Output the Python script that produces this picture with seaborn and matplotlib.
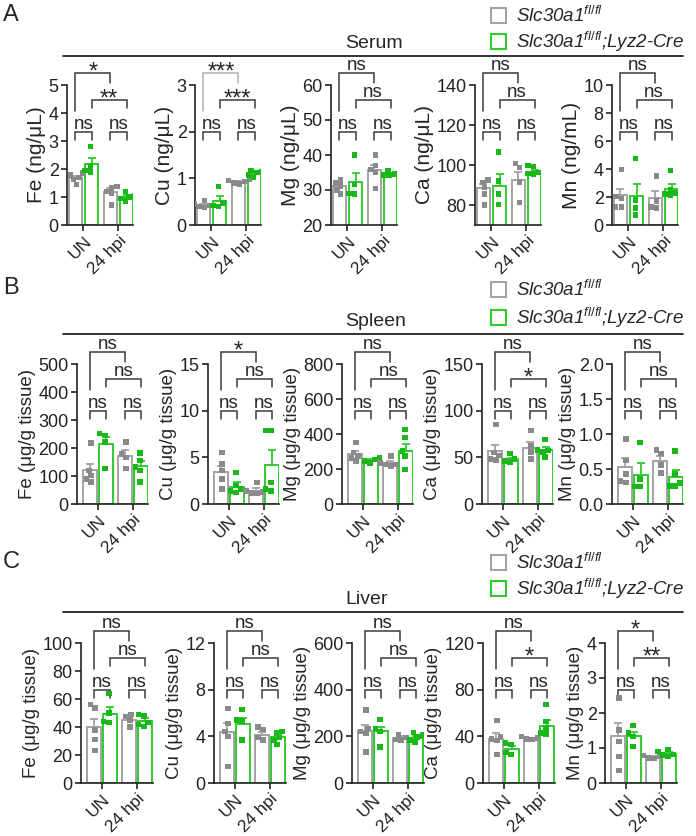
import numpy as np
import pandas as pd
import matplotlib
matplotlib.use("Agg")
import matplotlib.pyplot as plt
import seaborn as sns
from matplotlib.patches import Patch
from matplotlib.lines import Line2D
from matplotlib.ticker import FormatStrFormatter

# ---------------- data ----------------
TIMES = ["UN", "24 hpi"]
GENOTYPES = ["fl/fl", "fl/fl;Lyz2-Cre"]
LEGEND_LABELS = ["Slc30a1$^{fl/fl}$", "Slc30a1$^{fl/fl}$;Lyz2-Cre"]
TISSUES = ["Serum", "Spleen", "Liver"]
PANEL_LETTERS = ["A", "B", "C"]
ELEMENTS = ["Fe", "Cu", "Mg", "Ca", "Mn"]
SERUM_UNITS = ["ng/μL", "ng/μL", "ng/μL", "ng/μL", "ng/mL"]
TISSUE_UNIT = "μg/g tissue"

# bar order in each element: [fl/fl UN, cKO UN, fl/fl 24 hpi, cKO 24 hpi]
SERUM_MEAN = [[1.67, 2.17, 1.19, 1.00],
              [0.43, 0.51, 0.93, 1.10],
              [31.1, 32.3, 35.6, 34.5],
              [88.4, 89.6, 92.6, 96.5],
              [2.14, 2.05, 1.90, 2.60]]
SERUM_SEM = [[0.08, 0.21, 0.12, 0.07],
             [0.03, 0.11, 0.02, 0.04],
             [0.7, 2.5, 1.6, 0.3],
             [2.3, 5.9, 3.8, 0.9],
             [0.45, 0.90, 0.55, 0.35]]
SERUM_POINTS = [
    [[1.85, 1.78, 1.70, 1.62, 1.45], [2.80, 2.10, 1.95, 1.90], [1.38, 1.32, 1.20, 1.12, 0.72], [1.20, 1.05, 1.00, 0.95, 0.85]],
    [[0.52, 0.45, 0.42, 0.40, 0.37], [0.82, 0.47, 0.42, 0.40], [0.98, 0.95, 0.93, 0.90, 0.88], [1.17, 1.15, 1.12, 1.07, 1.02]],
    [[32.8, 32.0, 31.2, 30.0, 28.8], [40.0, 31.5, 29.0, 28.8], [40.0, 37.0, 35.8, 35.0, 30.5], [35.6, 34.6, 34.3, 34.1]],
    [[92.6, 91.3, 88.7, 85.4, 80.0], [106.4, 92.1, 85.4, 80.3], [100.8, 98.8, 91.5, 81.2], [99.7, 99.2, 96.3, 95.8, 95.5]],
    [[3.95, 2.05, 1.90, 1.30, 1.30], [4.75, 1.80, 1.20, 0.70], [3.50, 1.70, 1.30, 1.20], [3.90, 2.50, 2.30, 2.20, 2.10]],
]
SPLEEN_MEAN = [[120, 213, 173, 135],
               [3.46, 1.86, 1.43, 4.20],
               [283, 250, 235, 305],
               [56.3, 47.7, 60.3, 57.5],
               [0.53, 0.42, 0.61, 0.39]]
SPLEEN_SEM = [[24, 26, 19, 17],
              [0.65, 0.50, 0.27, 1.55],
              [18, 6, 9, 40],
              [7.0, 2.0, 6.0, 3.5],
              [0.13, 0.16, 0.07, 0.10]]
SPLEEN_POINTS = [
    [[218, 120, 102, 90, 78], [251, 245, 221, 126], [221, 179, 167, 126], [182, 155, 132, 120, 78]],
    [[5.5, 4.3, 3.6, 2.7, 1.6], [3.4, 2.0, 1.6, 1.4, 1.25], [2.3, 1.4, 1.3, 1.2, 1.15], [7.9, 7.9, 2.3, 1.6, 1.4]],
    [[350, 293, 274, 264, 245], [264, 255, 245, 235], [274, 235, 226, 226, 216], [427, 380, 302, 274, 197]],
    [[85, 55, 52, 48, 47], [53.8, 48.4, 46.0, 44.9], [79, 62, 55.6, 48.4], [68.9, 58, 57.4, 55.6, 50.2]],
    [[0.93, 0.62, 0.43, 0.33, 0.31], [0.88, 0.36, 0.25, 0.25], [0.77, 0.72, 0.56, 0.44], [0.76, 0.43, 0.30, 0.26, 0.26]],
]
LIVER_MEAN = [[39.8, 49.5, 45.2, 44.5],
              [4.34, 5.06, 4.14, 3.94],
              [222, 222, 194, 195],
              [38.0, 29.4, 38.0, 49.1],
              [1.33, 1.33, 0.73, 0.83]]
LIVER_SEM = [[6.2, 4.5, 1.9, 1.6],
             [0.80, 0.50, 0.25, 0.20],
             [27, 20, 7, 8],
             [5.0, 2.4, 0.8, 5.0],
             [0.38, 0.14, 0.03, 0.05]]
LIVER_POINTS = [
    [[56, 53.6, 38, 31, 23.3], [64, 50, 44, 43.3], [48.8, 47.6, 45, 40], [48.8, 48, 43.3, 41.7, 40.5]],
    [[6.4, 5.1, 4.4, 4.0, 1.4], [6.3, 5.4, 5.3, 3.7], [4.8, 4.6, 3.9, 3.7], [4.4, 4.3, 3.9, 3.7, 3.3]],
    [[313, 234, 220, 212, 133], [273, 234, 220, 155], [205, 195, 186, 184], [217, 205, 198, 184, 176]],
    [[53.4, 40, 37.7, 36.3, 24.3], [34.3, 32.9, 26.3, 24.3], [40, 38.6, 37.7, 37.1], [67.1, 52.9, 47.1, 42.9, 42]],
    [[2.43, 1.52, 1.19, 0.76, 0.36], [1.65, 1.43, 1.33, 1.05], [0.78, 0.76, 0.71, 0.70], [0.95, 0.90, 0.81, 0.80, 0.76]],
]
# y axis ranges and ticks (min, max, first tick, step)
SERUM_Y = [(0, 5, 0, 1), (0, 3, 0, 1), (20, 60, 20, 10), (70, 140, 80, 20), (0, 10, 0, 2)]
SPLEEN_Y = [(0, 500, 0, 100), (0, 15, 0, 5), (0, 800, 0, 200), (0, 150, 0, 50), (0, 2.0, 0, 0.5)]
LIVER_Y = [(0, 100, 0, 20), (0, 12, 0, 4), (0, 600, 0, 200), (0, 120, 0, 40), (0, 4, 0, 1)]
# significance: (fl/fl UN vs 24 hpi, cKO UN vs 24 hpi); within-time comparisons all "ns"
SERUM_SIG = [("*", "**"), ("***", "***"), ("ns", "ns"), ("ns", "ns"), ("ns", "ns")]
SPLEEN_SIG = [("ns", "ns"), ("*", "ns"), ("ns", "ns"), ("ns", "*"), ("ns", "ns")]
LIVER_SIG = [("ns", "ns"), ("ns", "ns"), ("ns", "ns"), ("ns", "*"), ("*", "**")]
WITHIN_SIG = "ns"

# ---------------- style ----------------
EDGE_COLORS = ["#a3a3a3", "#2ecc2e"]
POINT_COLORS = ["#8a8a8a", "#17b817"]
BRACKET_COLOR = "#3a3a3a"
LIGHT_BRACKET = "#b0b0b0"

sns.set_style("ticks")
plt.rcParams["font.family"] = ["Liberation Sans", "DejaVu Sans"]
plt.rcParams["mathtext.fontset"] = "custom"
plt.rcParams["mathtext.it"] = "Liberation Sans:italic"
plt.rcParams["mathtext.rm"] = "Liberation Sans"
plt.rcParams["axes.linewidth"] = 1.2
plt.rcParams["axes.edgecolor"] = "#222222"

W, H = 696, 836
fig = plt.figure(figsize=(W / 100, H / 100), dpi=100)

ROW_TOP = [85, 364, 643]
ROW_H = 140
PX_PER_UNIT = 35
ROW_XLIM = [(-0.47, 1.42), (-0.6, 1.42), (-0.6, 1.45)]
ROW_LEFTS = [[67, 195, 331, 475, 612], [77, 208, 342, 482, 612], [81, 214, 352, 483, 605]]
ROW_LINE_Y = [56, 334, 612]
ROW_TITLE_XY = [(374, 43), (376, 322), (367, 600)]
ROW_LEGEND_Y = [(16, 42), (290, 318), (563, 589)]
LETTER_Y = [15, 288, 562]

ALL_MEAN = [SERUM_MEAN, SPLEEN_MEAN, LIVER_MEAN]
ALL_SEM = [SERUM_SEM, SPLEEN_SEM, LIVER_SEM]
ALL_POINTS = [SERUM_POINTS, SPLEEN_POINTS, LIVER_POINTS]
ALL_Y = [SERUM_Y, SPLEEN_Y, LIVER_Y]
ALL_SIG = [SERUM_SIG, SPLEEN_SIG, LIVER_SIG]


def bracket(ax, x1, x2, ytop, yl, yr, label, color):
    tr = ax.get_xaxis_transform()
    ax.plot([x1, x1, x2, x2], [yl, ytop, ytop, yr], transform=tr, color=color,
            lw=1.1, clip_on=False, solid_joinstyle="miter")
    if label == "ns":
        ax.annotate(label, xy=((x1 + x2) / 2, ytop), xycoords=tr, xytext=(0, 2.0),
                    textcoords="offset points", ha="center", va="baseline",
                    fontsize=13.5, annotation_clip=False)
    else:
        ax.annotate(label, xy=((x1 + x2) / 2, ytop), xycoords=tr, xytext=(0, -4),
                    textcoords="offset points", ha="center", va="baseline",
                    fontsize=17, annotation_clip=False)


for r in range(3):
    for e in range(5):
        left = ROW_LEFTS[r][e]
        xlim = ROW_XLIM[r]
        width_px = (xlim[1] - xlim[0]) * PX_PER_UNIT
        ax = fig.add_axes([left / W, 1 - (ROW_TOP[r] + ROW_H) / H, width_px / W, ROW_H / H])

        means = ALL_MEAN[r][e]
        sems = ALL_SEM[r][e]
        pts = ALL_POINTS[r][e]
        mdf = pd.DataFrame({
            "time": [t for t in TIMES for g in GENOTYPES],
            "genotype": [g for t in TIMES for g in GENOTYPES],
            "value": means,
        })
        rows = []
        k = 0
        for t in TIMES:
            for g in GENOTYPES:
                for v in pts[k]:
                    rows.append((t, g, v))
                k += 1
        pdf = pd.DataFrame(rows, columns=["time", "genotype", "value"])

        sns.barplot(data=mdf, x="time", y="value", hue="genotype", order=TIMES,
                    hue_order=GENOTYPES, palette=EDGE_COLORS, fill=False,
                    errorbar=None, width=0.92, gap=0.15, linewidth=1.4,
                    legend=False, ax=ax, zorder=2)
        bars = sorted(ax.patches, key=lambda p: p.get_x())
        xs = [p.get_x() + p.get_width() / 2 for p in bars]
        for i, (x, m, s) in enumerate(zip(xs, means, sems)):
            ax.errorbar([x], [m], yerr=[[0], [s]], fmt="none", ecolor=EDGE_COLORS[i % 2],
                        elinewidth=1.3, capsize=3, capthick=1.3, zorder=3)
        sns.swarmplot(data=pdf, x="time", y="value", hue="genotype", order=TIMES,
                      hue_order=GENOTYPES, dodge=True, palette=POINT_COLORS,
                      marker="s", size=3.9, linewidth=0, legend=False, ax=ax,
                      zorder=4, warn_thresh=1)

        ymin, ymax, t0, step = ALL_Y[r][e]
        ax.set_ylim(ymin, ymax)
        ax.set_yticks(np.arange(t0, ymax + step / 2, step))
        if step < 1:
            ax.yaxis.set_major_formatter(FormatStrFormatter("%.1f"))
        else:
            ax.yaxis.set_major_formatter(FormatStrFormatter("%g"))
        ax.set_xlim(*xlim)
        ax.set_xticks([0, 1])
        ax.set_xticklabels(TIMES, rotation=45, ha="right", rotation_mode="anchor")
        ax.tick_params(axis="both", direction="out", length=4, width=1.2, colors="#222222",
                       labelsize=13, pad=2)
        ax.tick_params(axis="x", labelsize=12.5)
        ax.set_xlabel("")
        unit = SERUM_UNITS[e] if r == 0 else TISSUE_UNIT
        ax.set_ylabel(f"{ELEMENTS[e]} ({unit})", fontsize=15 if r == 0 else 13.5, labelpad=2)
        for s in ["top", "right"]:
            ax.spines[s].set_visible(False)

        top_sig, mid_sig = ALL_SIG[r][e]
        c3 = LIGHT_BRACKET if (r == 0 and e == 1) else BRACKET_COLOR
        bracket(ax, xs[0], xs[1], 0.665, 0.605, 0.605, WITHIN_SIG, BRACKET_COLOR)
        bracket(ax, xs[2], xs[3], 0.665, 0.605, 0.605, WITHIN_SIG, BRACKET_COLOR)
        bracket(ax, xs[1], xs[3], 0.895, 0.835, 0.835, mid_sig, BRACKET_COLOR)
        bracket(ax, xs[0], xs[2], 1.085, 0.815, 1.015, top_sig, c3)

    # row decorations
    fig.add_artist(Line2D([63 / W, 683 / W], [1 - ROW_LINE_Y[r] / H] * 2,
                          color="#222222", lw=1.3))
    tx, ty = ROW_TITLE_XY[r]
    fig.text(tx / W, 1 - ty / H, TISSUES[r], ha="center", va="center", fontsize=14)
    fig.text(3 / W, 1 - LETTER_Y[r] / H, PANEL_LETTERS[r], ha="left", va="center", fontsize=17)
    for j, c in enumerate(EDGE_COLORS):
        handle = Patch(facecolor="white", edgecolor=c, linewidth=1.5)
        fig.legend([handle], [LEGEND_LABELS[j]], loc="center left",
                   bbox_to_anchor=(491 / W, 1 - ROW_LEGEND_Y[r][j] / H), frameon=False,
                   prop={"size": 13.5, "style": "italic"}, handlelength=0.8, handleheight=0.8,
                   handletextpad=0.55, borderpad=0, borderaxespad=0)

fig.savefig("out.png", dpi=100)
